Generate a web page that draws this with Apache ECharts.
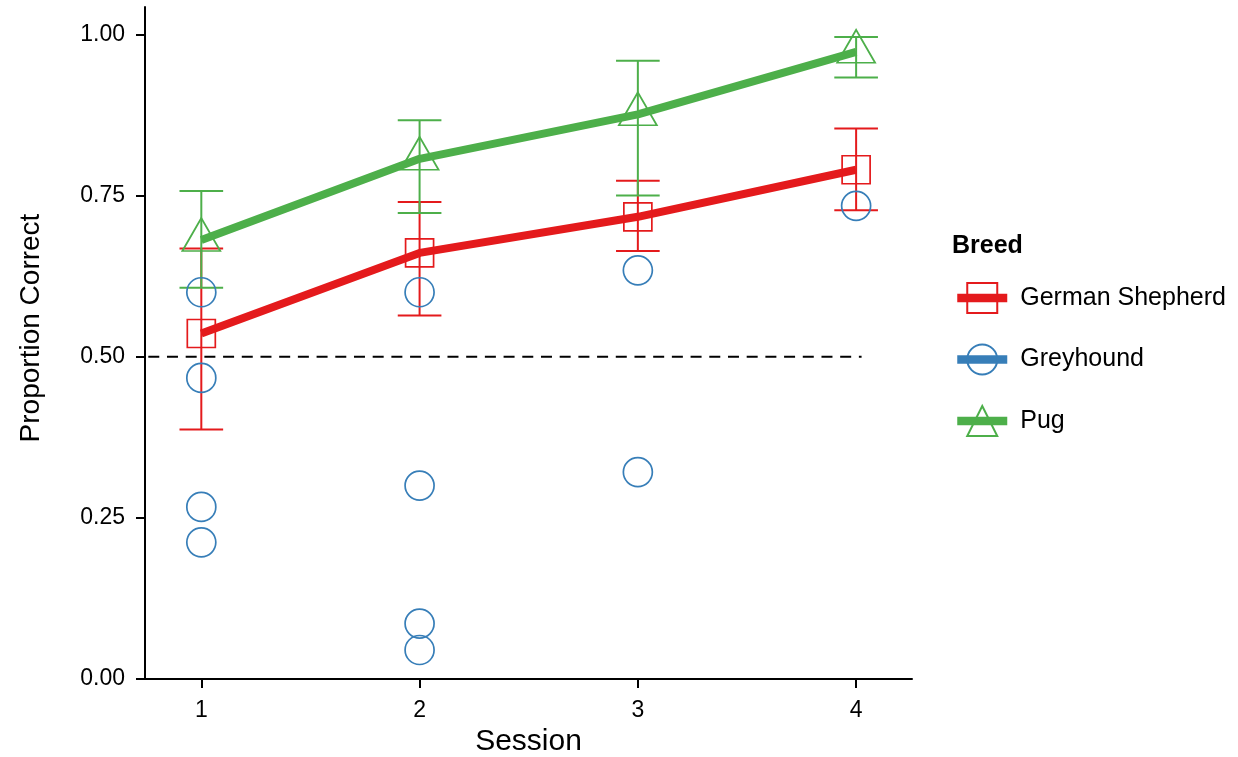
<!DOCTYPE html>
<html>
<head>
<meta charset="utf-8">
<title>Proportion Correct by Session</title>
<script src="https://cdn.jsdelivr.net/npm/echarts@6/dist/echarts.min.js"></script>
<style>
  html, body { margin: 0; padding: 0; background: #fff; }
  #chart { width: 1238px; height: 757px; }
</style>
</head>
<body>
<div id="chart"></div>
<script>
// Sessions on the x axis
const SESSIONS = [1, 2, 3, 4];
const X_TICKS = [1, 2, 3, 4];
const Y_TICKS = [0, 0.25, 0.5, 0.75, 1.0];

// German Shepherd: mean and error-bar limits per session
const GS_MEAN = [0.536, 0.661, 0.717, 0.790];
const GS_LOW  = [0.387, 0.564, 0.664, 0.727];
const GS_HIGH = [0.668, 0.740, 0.773, 0.854];

// Pug: mean and error-bar limits per session
const PUG_MEAN = [0.681, 0.807, 0.876, 0.973];
const PUG_LOW  = [0.607, 0.723, 0.750, 0.933];
const PUG_HIGH = [0.757, 0.867, 0.959, 0.996];

// Greyhound: individual scores per session
const GREY_SESSION = [1, 1, 1, 1, 2, 2, 2, 2, 3, 3, 4];
const GREY_SCORE   = [0.600, 0.467, 0.267, 0.212, 0.600, 0.300, 0.086, 0.045, 0.634, 0.321, 0.734];

// Chance level reference line and where it stops
const CHANCE = 0.5;
const CHANCE_X = [0.5, 4.025];

const RED = '#E41A1C', BLUE = '#377EB8', GREEN = '#4DAF4A';
const FONT = '"Liberation Sans", Arial, Helvetica, sans-serif';

const pairs = (xs, ys) => xs.map((x, i) => [x, ys[i]]);
const bars = (lo, hi) => SESSIONS.map((s, i) => [s, lo[i], hi[i]]);
// isolated points: a gap between each keeps them unconnected
const isolated = (xs, ys) => {
  const out = [];
  xs.forEach((x, i) => { if (i) out.push([null, null]); out.push([x, ys[i]]); });
  return out;
};

function errorBar(color) {
  return function (params, api) {
    const x = api.value(0);
    const lo = api.coord([x, api.value(1)]);
    const hi = api.coord([x, api.value(2)]);
    const half = api.size([0.1, 0])[0];
    const style = { stroke: color, lineWidth: 2 };
    return {
      type: 'group',
      children: [
        { type: 'line', shape: { x1: lo[0], y1: lo[1], x2: hi[0], y2: hi[1] }, style },
        { type: 'line', shape: { x1: hi[0] - half, y1: hi[1], x2: hi[0] + half, y2: hi[1] }, style },
        { type: 'line', shape: { x1: lo[0] - half, y1: lo[1], x2: lo[0] + half, y2: lo[1] }, style }
      ]
    };
  };
}

const axisCommon = {
  axisLine: { show: true, onZero: false, lineStyle: { color: '#000', width: 2 } },
  axisTick: { show: true, length: 9, lineStyle: { color: '#000', width: 2 } },
  splitLine: { show: false },
};

const chart = echarts.init(document.getElementById('chart'));
chart.setOption({
  backgroundColor: '#fff',
  animation: false,
  title: {
    text: 'Breed', left: 952, top: 234, padding: 0,
    textStyle: { fontSize: 25, fontWeight: 'bold', color: '#000', fontFamily: FONT }
  },
  legend: {
    orient: 'vertical', left: 953, top: 282, padding: 0,
    itemWidth: 50, itemHeight: 37.5, itemGap: 29.5,
    data: ['German Shepherd', 'Greyhound', 'Pug'],
    lineStyle: { width: 8.5 },
    textStyle: { fontSize: 25, color: '#000', fontFamily: FONT, padding: [0, 0, 0, 8] },
    selectedMode: false
  },
  grid: { left: 145, right: 326, top: 7, bottom: 78, containLabel: false, outerBoundsMode: 'none' },
  xAxis: Object.assign({}, axisCommon, {
    type: 'value', min: 0.742, max: 4.256,
    name: 'Session', nameLocation: 'middle', nameGap: 46,
    nameTextStyle: { color: '#000', fontSize: 30, fontFamily: FONT },
    axisTick: Object.assign({}, axisCommon.axisTick, { customValues: X_TICKS }),
    axisLabel: { customValues: X_TICKS, margin: 20, fontSize: 23, color: '#000', fontFamily: FONT }
  }),
  yAxis: Object.assign({}, axisCommon, {
    type: 'value', min: 0, max: 1.0425,
    name: 'Proportion Correct', nameLocation: 'middle', nameGap: 100,
    nameTextStyle: { color: '#000', fontSize: 28, fontFamily: FONT, padding: [0, 0, 0, 30] },
    axisTick: Object.assign({}, axisCommon.axisTick, { customValues: Y_TICKS }),
    axisLabel: {
      customValues: Y_TICKS, margin: 20, fontSize: 23, color: '#000', fontFamily: FONT,
      padding: [4, 0, 0, 0],
      formatter: v => v.toFixed(2)
    }
  }),
  series: [
    {
      name: 'chance', type: 'line', data: pairs(CHANCE_X, [CHANCE, CHANCE]),
      symbol: 'none', silent: true, z: 1,
      lineStyle: { color: '#000', width: 2, type: [11, 7.7] }
    },
    {
      name: 'German Shepherd SE', type: 'custom', renderItem: errorBar(RED),
      data: bars(GS_LOW, GS_HIGH), z: 2, silent: true
    },
    {
      name: 'Pug SE', type: 'custom', renderItem: errorBar(GREEN),
      data: bars(PUG_LOW, PUG_HIGH), z: 2, silent: true
    },
    {
      name: 'German Shepherd', type: 'line', data: pairs(SESSIONS, GS_MEAN), z: 3,
      symbol: 'rect', symbolSize: 28,
      lineStyle: { color: RED, width: 8 },
      itemStyle: { color: 'rgba(0,0,0,0)', borderColor: RED, borderWidth: 1.7 }
    },
    {
      name: 'Greyhound', type: 'line', data: isolated(GREY_SESSION, GREY_SCORE), z: 3,
      connectNulls: false, showAllSymbol: true,
      symbol: 'circle', symbolSize: 29,
      lineStyle: { color: BLUE, width: 8 },
      itemStyle: { color: 'rgba(0,0,0,0)', borderColor: BLUE, borderWidth: 1.7 }
    },
    {
      name: 'Pug', type: 'line', data: pairs(SESSIONS, PUG_MEAN), z: 3,
      symbol: 'triangle', symbolSize: [38, 33], symbolOffset: [0, -5.5],
      lineStyle: { color: GREEN, width: 8 },
      itemStyle: { color: 'rgba(0,0,0,0)', borderColor: GREEN, borderWidth: 1.7 }
    }
  ]
});
</script>
</body>
</html>
